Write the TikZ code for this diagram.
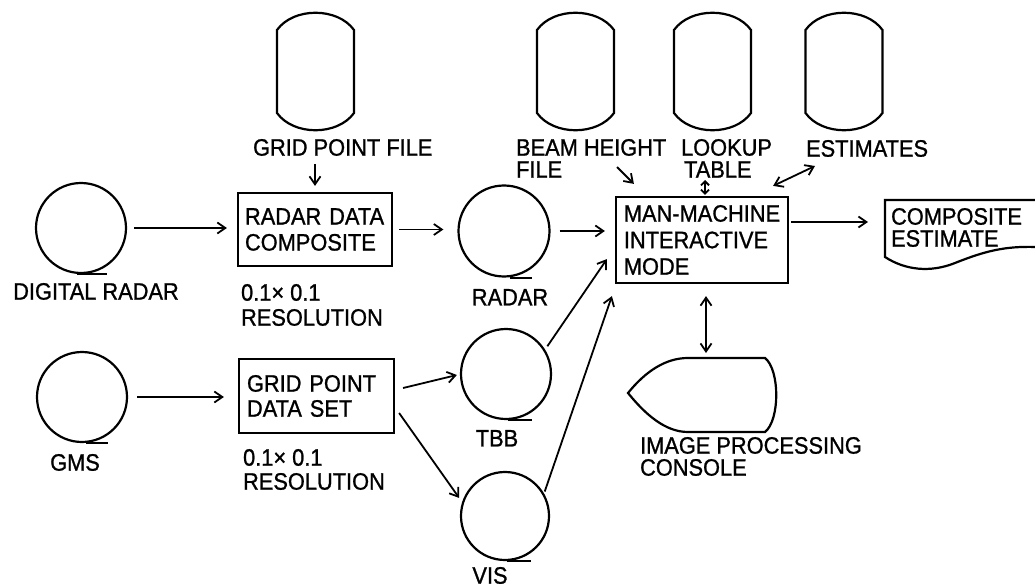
\documentclass[tikz,border=0pt]{standalone}
\usepackage{fontspec}
\setmainfont{Liberation Sans}[FakeStretch=0.92,FakeBold=1]
\usetikzlibrary{arrows.meta,calc}
\newcommand\drumat[1]{\draw (#1-38.5,30) .. controls (#1-22,7) and (#1+22,7) .. (#1+38.5,30) -- (#1+38.5,113) .. controls (#1+22,136) and (#1-22,136) .. (#1-38.5,113) -- cycle;}
\tikzset{
  tape/.style={draw, circle, inner sep=0pt},
  box/.style={draw, rectangle, align=left, inner sep=0pt},
  lbl/.style={inner sep=0pt, align=left},
  arr/.style={line width=1.8pt, -{Straight Barb[length=8pt,width=11pt]}},
  darr/.style={line width=1.8pt, {Straight Barb[length=8pt,width=11pt]}-{Straight Barb[length=8pt,width=11pt]}},
  sdarr/.style={line width=1.8pt, {Straight Barb[length=4pt,width=8pt]}-{Straight Barb[length=4pt,width=8pt]}},
}
\begin{document}
\begin{tikzpicture}[x=1pt, y=-1pt, line width=2.2pt, font=\fontsize{23.7}{26}\selectfont]
\useasboundingbox (0,0) rectangle (1035,588);
\fill[white] (0,0) rectangle (1035,588);

% storage drums
\drumat{315.5}
\drumat{575.5}
\drumat{712.5}
\drumat{844}

% tapes
\node[tape, minimum size=90pt] (dr) at (81,228) {};
\draw (dr.south) ++(-4,0) -- ++(30,0);
\node[tape, minimum size=90pt] (gms) at (82,397) {};
\draw (gms.south) ++(4,0) -- ++(22,0);
\node[tape, minimum size=91pt] (rc) at (504,231) {};
\draw (rc.south) ++(6,0) -- ++(22,0);
\node[tape, minimum size=90pt] (tbb) at (506,374) {};
\draw (tbb.south) ++(2,0) -- ++(24,0);
\node[tape, minimum size=88pt] (vis) at (505,516) {};
\draw (vis.south) ++(2,0) -- ++(24,0);

% boxes
\node[box, minimum width=154pt, minimum height=73pt, text width=140pt] (rdc) at (315,229.5) {RADAR DATA\\COMPOSITE};
\node[box, minimum width=155pt, minimum height=74pt, text width=139pt, font=\fontsize{23.7}{25}\selectfont] (gpds) at (316.5,396) {GRID POINT\\DATA SET};
\node[box, minimum width=172pt, minimum height=86pt, font=\fontsize{23.7}{26.5}\selectfont] (mmi) at (702,240) {MAN-MACHINE\\INTERACTIVE\\MODE};

% composite estimate (document)
\draw (1036,200) -- (885,200) -- (885,257) .. controls (905,270) and (930,273) .. (955,263) .. controls (985,251) and (1005,246) .. (1036,247);
\node[lbl, anchor=north west, font=\fontsize{23.7}{22}\selectfont] (ce) at (890,207) {COMPOSITE\\ESTIMATE};

% image processing console (display)
\draw (628,393) .. controls (645,372) and (665,358) .. (688,358) -- (765,358) .. controls (780,370) and (780,420) .. (765,432) -- (688,432) .. controls (665,432) and (645,414) .. (628,393) -- cycle;
\coordinate (ctop) at (706,358);
\node[lbl, anchor=north west, font=\fontsize{23.7}{22}\selectfont] (ipc) at (639,436) {IMAGE PROCESSING\\CONSOLE};

% labels
\node[lbl, anchor=north] (drl) at (96,282) {DIGITAL RADAR};
\node[lbl, anchor=north] (gmsl) at (75,453) {GMS};
\node[lbl, anchor=north] (rl) at (510,288) {RADAR};
\node[lbl, anchor=north] (tbbl) at (497,429) {TBB};
\node[lbl, anchor=north] (visl) at (490,566) {VIS};
\node[lbl, anchor=north west, font=\fontsize{23.7}{25}\selectfont] (res1) at (240,283) {0.1× 0.1\\RESOLUTION};
\node[lbl, anchor=north west, font=\fontsize{23.7}{24}\selectfont] (res2) at (242,448) {0.1× 0.1\\RESOLUTION};
\node[lbl, anchor=north west] (gpf) at (252,138) {GRID POINT FILE};
\node[lbl, anchor=north west, font=\fontsize{23.7}{22}\selectfont] (bh) at (515,138) {BEAM HEIGHT\\FILE};
\node[lbl, anchor=north west, font=\fontsize{23.7}{22}\selectfont] (lt) at (680,138) {LOOKUP\\\hspace*{3pt}TABLE};
\node[lbl, anchor=north west] (est) at (805,139) {ESTIMATES};

% connectors
\draw[arr, shorten <=7pt, shorten >=10pt] (dr.east) -- (dr.east -| rdc.west);
\draw[arr, shorten <=7pt, shorten >=6pt] (gpf.south -| rdc.north) -- (rdc.north);
\draw[arr, shorten <=6pt, shorten >=14pt] (rdc.east) -- (rdc.east -| rc.west);
\draw[arr, shorten <=9pt, shorten >=10pt] (rc.east) -- (rc.east -| mmi.west);
\draw[arr, shorten <=4pt] (tbb.32) -- ($(mmi.south west)+(-8,-25)$);
\draw[arr, shorten <=2pt] (vis.30) -- ($(mmi.south west)+(-3,12)$);
\draw[arr] ($(gpds.east)+(8,-8)$) -- ($(tbb.west)+(-3,1)$);
\draw[arr, shorten >=5pt] ($(gpds.east)+(4,17)$) -- (vis.162);
\draw[arr, shorten <=9pt, shorten >=14pt] (gms.east) -- (gms.east -| gpds.west);
\draw[arr] ($(bh.north west)+(102,29)$) -- ($(mmi.north west)+(19,-12)$);
\draw[sdarr] ($(lt.north west)+(25,42)$) -- ($(mmi.north)+(3,-1)$);
\draw[darr] ($(est.north west)+(10,27)$) -- ($(mmi.north east)+(-16,-10)$);
\coordinate (mo) at ($(mmi.east)+(2,-18)$);
\draw[arr, shorten >=22pt] (mo) -- (mo -| ce.west);
\draw[darr, shorten >=5pt] ($(mmi.south)+(4,12)$) -- (ctop);
\end{tikzpicture}
\end{document}
